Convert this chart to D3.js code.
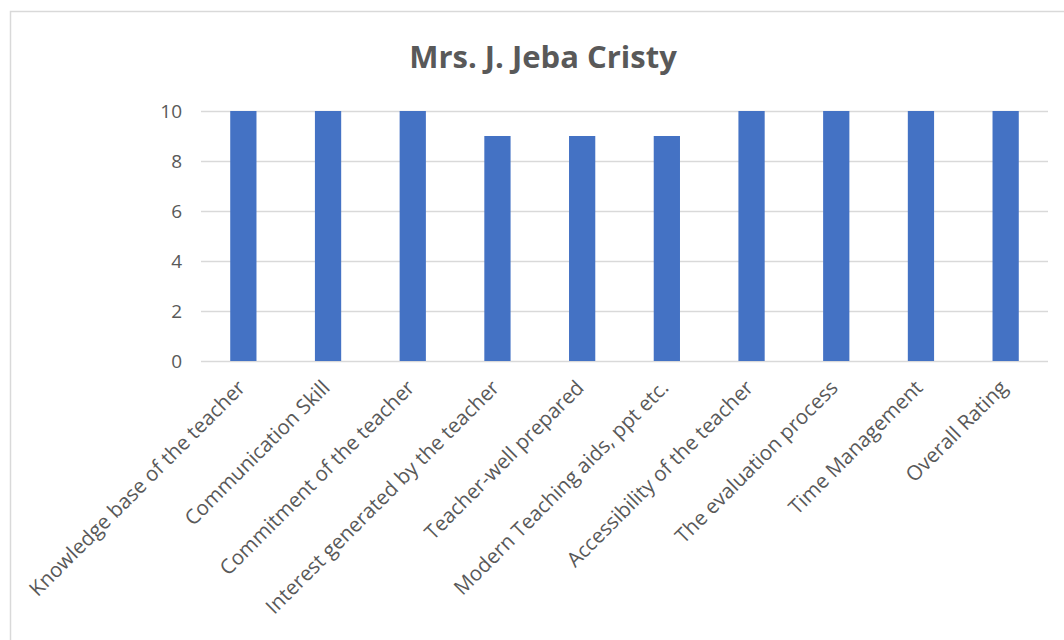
<!DOCTYPE html>
<html><head><meta charset="utf-8">
<script src="https://cdn.jsdelivr.net/npm/d3@7"></script>
<style>html,body{margin:0;padding:0;background:#fff;}svg{display:block;}</style>
</head><body>
<svg id="chart" width="1064" height="640"></svg>
<script>
const title = "Mrs. J. Jeba Cristy";
const categories = ["Knowledge base of the teacher","Communication Skill","Commitment of the teacher","Interest generated by the teacher","Teacher-well prepared","Modern Teaching aids, ppt etc.","Accessibility of the teacher","The evaluation process","Time Management","Overall Rating"];
const values = [10,10,10,9,9,9,10,10,10,10];
const yTicks = [0,2,4,6,8,10];

const svg = d3.select("#chart");
const font = "'Open Sans', sans-serif";
svg.append("rect").attr("x",10.5).attr("y",11.5).attr("width",1060).attr("height",660)
  .attr("fill","#fff").attr("stroke","#d9d9d9").attr("stroke-width",1.5);

const m = {left:201, right:1048, top:111, bottom:361};
const x = d3.scaleBand().domain(categories).range([m.left,m.right]).paddingInner(0.69).paddingOuter(0.345);
const y = d3.scaleLinear().domain([0,10]).range([m.bottom,m.top]);

svg.append("text").attr("x",543).attr("y",68).attr("text-anchor","middle")
  .attr("font-family",font).attr("font-weight","bold").attr("font-size",31).attr("fill","#595959").text(title);

const yAxis = svg.append("g").attr("transform",`translate(${m.left},0)`)
  .call(d3.axisLeft(y).tickValues(yTicks).tickSize(-(m.right-m.left)).tickPadding(19));
yAxis.select(".domain").remove();
yAxis.selectAll(".tick line").attr("stroke","#d9d9d9").attr("stroke-width",1.3);
yAxis.selectAll(".tick text").attr("font-family",font).attr("font-size",19).attr("fill","#595959");

svg.append("g").selectAll("rect").data(values).join("rect")
  .attr("x",(d,i)=>x(categories[i])).attr("width",x.bandwidth())
  .attr("y",d=>y(d)).attr("height",d=>y(0)-y(d)).attr("fill","#4472C4");

const xAxis = svg.append("g").attr("transform",`translate(0,${m.bottom})`)
  .call(d3.axisBottom(x).tickSize(0).tickPadding(0));
xAxis.select(".domain").remove();
xAxis.selectAll(".tick text").attr("font-family",font).attr("font-size",20.5).attr("fill","#595959")
  .attr("text-anchor","end").attr("dy",0).attr("transform","translate(3,28) rotate(-45)");
</script>
</body></html>
